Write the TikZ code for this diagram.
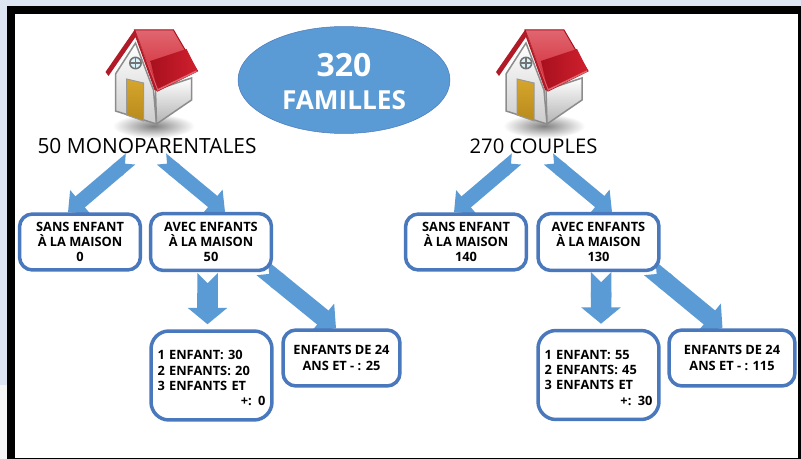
\documentclass[tikz,border=0pt]{standalone}
\usepackage{fontspec}
\setmainfont{Open Sans}
\usetikzlibrary{arrows.meta,backgrounds,shapes.geometric}
\definecolor{famblue}{HTML}{5B9BD5}
\definecolor{boxblue}{HTML}{4A78BC}
\definecolor{pageblue}{HTML}{DDE5F3}
\definecolor{roofdark}{HTML}{A8101E}
\definecolor{roofred}{HTML}{D0202E}
\definecolor{rooflight}{HTML}{E0666F}
\definecolor{doortop}{HTML}{D6A62C}
\definecolor{doorlow}{HTML}{B88A1C}
\tikzset{
  pics/house/.style={code={
    \shade[inner color=black!50, outer color=white] (19,96) ellipse (41 and 12);
    % walls
    \shade[top color=white, bottom color=black!20, draw=black!45, line width=.03cm]
      (-19,44) -- (1,13) -- (19,60) -- (22,94) -- (-19,81) -- cycle;
    \shade[top color=white, bottom color=black!30, draw=black!45, line width=.03cm]
      (22,94) -- (57,70) -- (57,48) -- (21,60) -- cycle;
    \shade[top color=doortop, bottom color=doorlow, draw=black!40, line width=.02cm]
      (-8,49) -- (9,53) -- (9,91) -- (-8,85) -- cycle;
    \draw[black!55, fill=cyan!15, line width=.03cm] (1,33) circle (5.7);
    \draw[black!55, line width=.03cm] (-4.7,33) -- (6.7,33) (1,27.3) -- (1,38.7);
    % roof
    \shade[top color=rooflight, bottom color=roofred, draw=roofdark, line width=.02cm]
      (0,0) -- (39,0) -- (63,41) -- (23,61) -- cycle;
    \shade[left color=roofdark, right color=roofred]
      (16,31) -- (52,19) -- (63,41) -- (23,61) -- cycle;
    \draw[rooflight, line width=.03cm] (1,5) -- (23,60) -- (62,41);
    \fill[roofred!85!black] (-29,42) -- (0,0) -- (23,61) -- (20,60) -- (1,7) -- (-26,46) -- cycle;
  }},
}
\begin{document}
\begin{tikzpicture}[x=.02cm, y=-.02cm,
  main node/.style={draw=boxblue, fill=white, line width=.07cm, rounded corners=.26cm, inner sep=0pt,
    minimum height=#1, font=\bfseries\fontsize{7.3}{8.7}\selectfont, align=center,
    execute at begin node=\rule{0pt}{8.4pt}},
  list node/.style={main node=1.78cm, rounded corners=.36cm, minimum width=2.42cm, text width=2.16cm, align=left,
    execute at begin node=\rule{0pt}{6.5pt}},
  big arrow/.style={draw=famblue, line width=.29cm,
    {Triangle Cap[reversed]}-{Triangle[width=.6cm, length=.32cm]}},
  down arrow/.style={big arrow, line width=.41cm,
    {Triangle Cap[reversed]}-{Triangle[width=.78cm, length=.33cm]}},
  long arrow/.style={big arrow, line width=.36cm,
    {Triangle Cap[reversed]}-{Triangle[width=.7cm, length=.34cm]}},
  title node/.style={font=\fontsize{#1}{13}\selectfont, inner sep=0pt}]
\useasboundingbox (0,0) rectangle (801,459);
\begin{scope}[on background layer]
\fill[pageblue] (0,0) rectangle (801,459);
\fill[black!4] (0,385) rectangle (7,459);
\fill[black] (7,6) rectangle (801,459);
\fill[white] (15,14) rectangle (797.5,457.5);
\end{scope}
\node [ellipse, fill=famblue, draw=boxblue, line width=.01cm, inner sep=0pt, minimum width=4.24cm, minimum height=2.14cm] (total) at (344,80) {};
\node [text=white, inner sep=0pt, font=\bfseries\fontsize{18.2}{20}\selectfont] (nombre) at (344,65) {320};
\node [text=white, inner sep=0pt, font=\bfseries\fontsize{14.9}{16}\selectfont] (familles) at (344,100) {FAMILLES};
\pic at (134.5,30) {house};
\pic at (525,30) {house};
\node [title node=11.9] (lmono) at (147,146) {50 MONOPARENTALES};
\node [title node=11.5] (rcouple) at (533.5,146) {270 COUPLES};
% left side
\node [main node=1.12cm, minimum width=2.42cm] (lsans) at (80,242) {SANS ENFANT\\À LA MAISON\\0};
\node [main node=1.14cm, minimum width=2.42cm] (lavec) at (211,242) {AVEC ENFANTS\\À LA MAISON\\50};
\node [list node] (llist) at (211.5,375.5) {1 ENFANT: 30\\2 ENFANTS: 20\\3 ENFANTS ET\\\hfill +: 0\hspace*{.26cm}};
\node [main node=1.12cm, minimum width=2.34cm] (llong) at (341.5,358) {ENFANTS DE 24\\ANS ET - : 25};
% right side
\node [main node=1.12cm, minimum width=2.42cm] (rsans) at (466,242) {SANS ENFANT\\À LA MAISON\\140};
\node [main node=1.14cm, minimum width=2.42cm] (ravec) at (598.5,242) {AVEC ENFANTS\\À LA MAISON\\130};
\node [list node] (rlist) at (598.5,375) {1 ENFANT: 55\\2 ENFANTS: 45\\3 ENFANTS ET\\\hfill +: 30\hspace*{.26cm}};
\node [main node=1.12cm, minimum width=2.52cm] (rlong) at (732,358) {ENFANTS DE 24\\ANS ET - : 115};
% arrows go under the boxes
\coordinate (ltail1) at (130.5,159);
\coordinate (ltail2) at (161.5,159);
\coordinate (ltail3) at (207.5,273);
\coordinate (rtail1) at (516.5,159);
\coordinate (rtail2) at (548.5,159);
\coordinate (rtail3) at (601,272);
\begin{scope}[on background layer]
\draw [big arrow] (ltail1) -- ([shift={(-12,0)}]lsans.north);
\draw [big arrow] (ltail2) -- ([shift={(14,0)}]lavec.north);
\draw [down arrow] (ltail3) -- ([shift={(-4,-5)}]llist.north);
\draw [long arrow] ([shift={(-11,-4)}]lavec.south east) -- ([shift={(-5.5,0)}]llong.north);
\draw [big arrow] (rtail1) -- ([shift={(-12,0)}]rsans.north);
\draw [big arrow] (rtail2) -- ([shift={(13.5,0)}]ravec.north);
\draw [down arrow] (rtail3) -- ([shift={(2.5,-5)}]rlist.north);
\draw [long arrow] ([shift={(-11,-4)}]ravec.south east) -- ([shift={(-9.5,0)}]rlong.north);
\end{scope}
\end{tikzpicture}
\end{document}
